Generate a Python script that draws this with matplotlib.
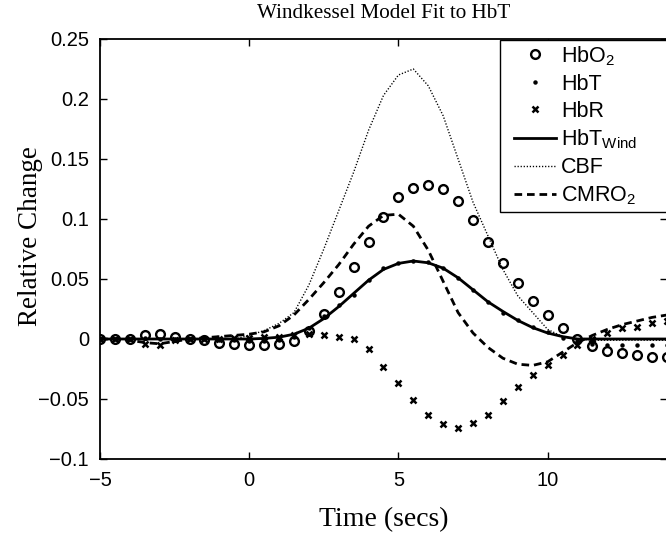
import matplotlib
matplotlib.use("Agg")
import matplotlib.pyplot as plt
from matplotlib.ticker import FixedLocator, FixedFormatter
from matplotlib.patches import Rectangle

# ---------------- data ----------------
time_s = [-5, -4.5, -4, -3.5, -3, -2.5, -2, -1.5, -1, -0.5, 0, 0.5, 1, 1.5, 2, 2.5,
          3, 3.5, 4, 4.5, 5, 5.5, 6, 6.5, 7, 7.5, 8, 8.5, 9, 9.5, 10, 10.5, 11,
          11.5, 12, 12.5, 13, 13.5, 14]

hbo2 = [0.000, 0.000, 0.000, 0.003, 0.004, 0.002, 0.000, -0.001, -0.003, -0.004,
        -0.005, -0.005, -0.004, -0.002, 0.007, 0.021, 0.039, 0.060, 0.081, 0.102,
        0.118, 0.126, 0.128, 0.125, 0.115, 0.099, 0.081, 0.063, 0.047, 0.032,
        0.020, 0.009, 0.000, -0.006, -0.010, -0.012, -0.013, -0.015, -0.015]

hbt = [0.000, 0.000, 0.000, 0.001, 0.000, 0.000, 0.000, 0.000, -0.001, -0.001,
       -0.002, -0.002, -0.001, 0.002, 0.009, 0.019, 0.028, 0.037, 0.049, 0.059,
       0.063, 0.065, 0.064, 0.059, 0.051, 0.041, 0.031, 0.022, 0.0155, 0.010,
       0.006, 0.001, -0.002, -0.004, -0.005, -0.005, -0.005, -0.005, -0.005]

hbr = [0.000, 0.000, 0.000, -0.004, -0.005, -0.001, 0.000, 0.000, 0.000, 0.001,
       0.001, 0.002, 0.002, 0.003, 0.004, 0.003, 0.002, 0.000, -0.008, -0.023,
       -0.037, -0.051, -0.063, -0.071, -0.074, -0.070, -0.063, -0.052, -0.040,
       -0.030, -0.022, -0.013, -0.005, 0.000, 0.005, 0.009, 0.010, 0.013, 0.015]

hbt_wind = [0.000, 0.000, 0.000, 0.000, 0.000, 0.000, 0.000, 0.000, 0.000, 0.000,
            0.000, 0.0005, 0.0015, 0.004, 0.009, 0.017, 0.027, 0.038, 0.049, 0.058,
            0.063, 0.065, 0.0635, 0.059, 0.051, 0.041, 0.031, 0.023, 0.0155, 0.0095,
            0.005, 0.002, 0.000, 0.000, 0.000, 0.000, 0.000, 0.000, 0.000]

cbf = [0.000, 0.000, 0.000, 0.000, 0.000, 0.000, 0.000, 0.000, 0.000, 0.000,
       0.003, 0.007, 0.013, 0.022, 0.045, 0.075, 0.107, 0.139, 0.174, 0.203,
       0.220, 0.225, 0.211, 0.186, 0.150, 0.114, 0.086, 0.058, 0.036, 0.022,
       0.008, 0.002, 0.000, -0.001, -0.001, -0.001, -0.001, -0.001, -0.001]

cmro2 = [0.000, 0.000, -0.001, -0.003, -0.004, -0.002, 0.000, 0.001, 0.002, 0.003,
         0.004, 0.006, 0.011, 0.020, 0.033, 0.047, 0.062, 0.079, 0.094, 0.103,
         0.104, 0.094, 0.074, 0.048, 0.022, 0.005, -0.007, -0.016, -0.021, -0.022,
         -0.019, -0.011, -0.003, 0.003, 0.008, 0.012, 0.015, 0.018, 0.020]

series_labels = [r'HbO$_{\mathrm{2}}$', 'HbT', 'HbR', r'HbT$_{\mathrm{Wind}}$', 'CBF',
                 r'CMRO$_{\mathrm{2}}$']

x_ticks = [-5, 0, 5, 10]
x_tick_labels = ['\u22125', '0', '5', '10']
y_ticks = [-0.1, -0.05, 0, 0.05, 0.1, 0.15, 0.2, 0.25]
y_tick_labels = ['\u22120.1', '\u22120.05', '0', '0.05', '0.1', '0.15', '0.2', '0.25']

title_text = 'Windkessel Model Fit to HbT'
x_label = 'Time (secs)'
y_label = 'Relative Change'

# ---------------- style ----------------
plt.rcParams['lines.scale_dashes'] = False
plt.rcParams['mathtext.fontset'] = 'custom'
plt.rcParams['mathtext.rm'] = 'Liberation Sans'
plt.rcParams['mathtext.it'] = 'Liberation Sans'
plt.rcParams['font.family'] = ['Liberation Sans', 'DejaVu Sans']

W, H = 666, 549
fig = plt.figure(figsize=(W / 100, H / 100), dpi=100)

ax_left, ax_right, ax_top, ax_bottom = 100, 667, 39, 459
ax = fig.add_axes([ax_left / W, 1 - ax_bottom / H, (ax_right - ax_left) / W,
                   (ax_bottom - ax_top) / H])

ax.plot(time_s, hbo2, linestyle='none', marker='o', markersize=6.3,
        markerfacecolor='none', markeredgecolor='black', markeredgewidth=1.7,
        label=series_labels[0])
ax.plot(time_s, hbt, linestyle='none', marker='o', markersize=2.2,
        markerfacecolor='black', markeredgecolor='black', label=series_labels[1])
ax.plot(time_s, hbr, linestyle='none', marker='x', markersize=4.5,
        markeredgecolor='black', markeredgewidth=1.8, label=series_labels[2])
ax.plot(time_s, hbt_wind, color='black', linewidth=2.0, linestyle='-',
        label=series_labels[3])
ax.plot(time_s, cbf, color='black', linewidth=1.0, linestyle=(0, (0.9, 1.3)),
        label=series_labels[4])
ax.plot(time_s, cmro2, color='black', linewidth=2.0, linestyle=(0, (5.5, 3.5)),
        label=series_labels[5])

ax.set_xlim(-5, 14)
ax.set_ylim(-0.1, 0.25)
ax.xaxis.set_major_locator(FixedLocator(x_ticks))
ax.xaxis.set_major_formatter(FixedFormatter(x_tick_labels))
ax.yaxis.set_major_locator(FixedLocator(y_ticks))
ax.yaxis.set_major_formatter(FixedFormatter(y_tick_labels))
ax.tick_params(direction='in', length=5, width=1.0, top=True, right=True,
               labelsize=14.5, colors='black')
ax.tick_params(axis='x', pad=9)
ax.tick_params(axis='y', pad=8)
for sp in ax.spines.values():
    sp.set_linewidth(1.3)
    sp.set_color('black')

serif = ['Liberation Serif', 'DejaVu Serif']
ax.set_title(title_text, family=serif, fontsize=15.2, pad=15)
ax.set_xlabel(x_label, family=serif, fontsize=20, va='center')
ax.xaxis.set_label_coords(0.5, (ax_bottom - 520) / (ax_bottom - ax_top))
ax.set_ylabel(y_label, family=serif, fontsize=19.5, va='center')
ax.yaxis.set_label_coords((30 - ax_left) / (ax_right - ax_left),
                          (ax_bottom - 236) / (ax_bottom - ax_top))

# legend without frame, placed inside a separately drawn box
leg = ax.legend(loc='upper left', bbox_to_anchor=(514 / W, 1 - 44 / H),
                bbox_transform=fig.transFigure, fontsize=15.5, frameon=False,
                borderpad=0, labelspacing=0.28, handlelength=1.95,
                handletextpad=0.25, borderaxespad=0)
leg.set_zorder(6)

fig.canvas.draw()
bb = leg.get_window_extent()
box_left, box_top = 500, 40
box_bottom_px = H - bb.y0 + 5
frame = Rectangle((box_left / W, 1 - box_bottom_px / H),
                  (W + 10 - box_left) / W, (box_bottom_px - box_top) / H,
                  transform=fig.transFigure, facecolor='white', edgecolor='black',
                  linewidth=1.0, zorder=5)
ax.add_patch(frame)
frame.set_clip_on(False)

fig.savefig('out.png', dpi=100)
